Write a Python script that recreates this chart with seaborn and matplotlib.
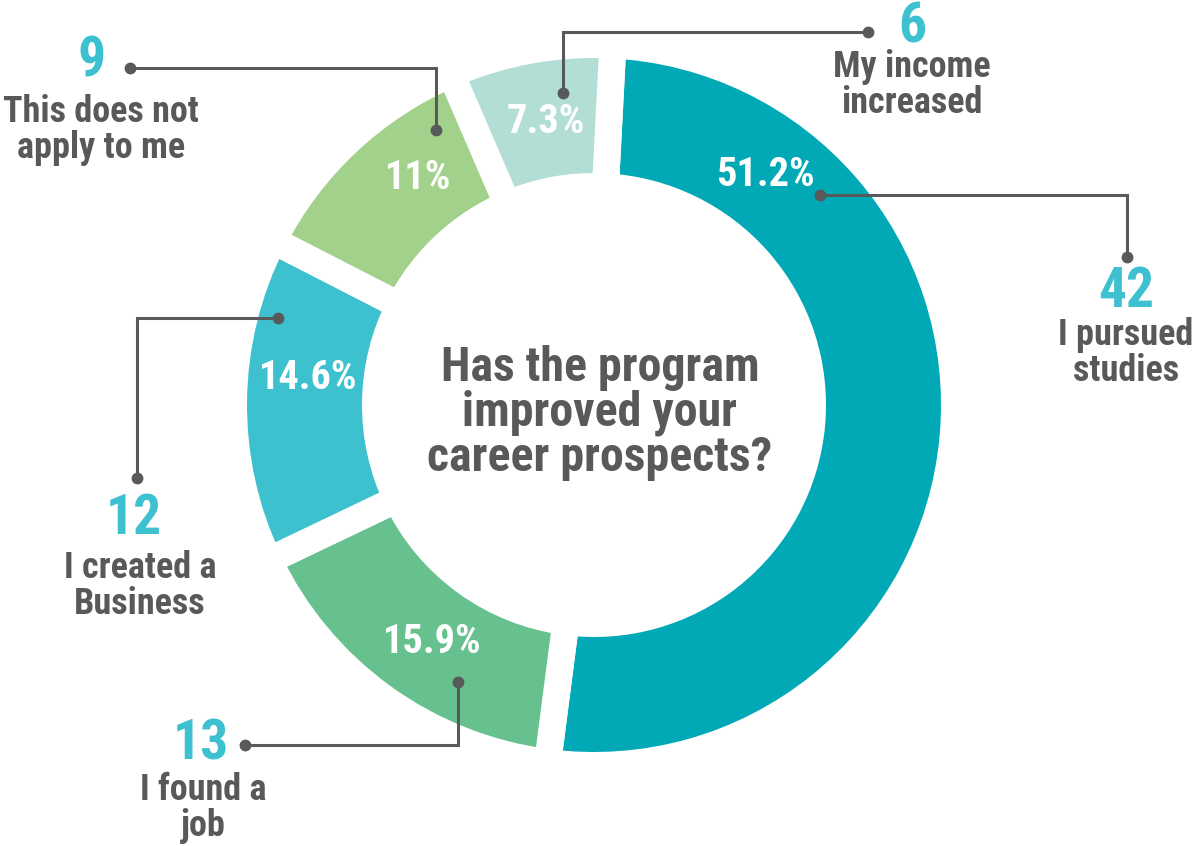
import os

import matplotlib
matplotlib.use("Agg")
import matplotlib.pyplot as plt
from matplotlib import font_manager
import numpy as np
import seaborn as sns

# ---------------------------------------------------------------------------
# Data (clockwise from the top)
# ---------------------------------------------------------------------------
categories = [
    "I pursued\nstudies",
    "I found a\njob",
    "I created a\nBusiness",
    "This does not\napply to me",
    "My income\nincreased",
]
counts = [42, 13, 12, 9, 6]
slice_colors = ["#00A9B5", "#66C18E", "#3EC1CF", "#A1D18A", "#B2DED5"]
title = "Has the program\nimproved your\ncareer prospects?"

# ---------------------------------------------------------------------------
# Layout (image pixels, y measured from the top)
# ---------------------------------------------------------------------------
W, H = 1192, 846
CX, CY = 594, 405
R_OUT, RING, GAP = 347, 115, 27
PCT_R = 287
PCT_ANGLE = [53.4, -124.4, 174.7, 127.7, 99.6]

# leader line path (dot in ring -> elbow -> end dot), number and label anchors
CALLOUTS = [
    dict(path=[(820, 195), (1127, 195), (1127, 257)], num=(1126, 292), lab=(1126, 353)),
    dict(path=[(458, 682), (458, 745), (245, 745)], num=(201, 744), lab=(203, 808)),
    dict(path=[(278, 318), (137, 318), (137, 478)], num=(134, 519), lab=(140, 586)),
    dict(path=[(436, 130), (436, 68), (130, 68)], num=(92, 61), lab=(101, 130)),
    dict(path=[(563, 93), (563, 32), (868, 32)], num=(912, 27), lab=(912, 85)),
]

GREY = "#58595B"
NUM_COLOR = "#3DC0CF"

sns.set_theme(style="white")


def pick_font():
    wanted = ["RobotoCondensed-Bold.ttf", "BarlowSemiCondensed-Bold.ttf",
              "DejaVuSansCondensed-Bold.ttf"]
    found = {os.path.basename(f): f for f in font_manager.findSystemFonts()}
    for w in wanted:
        if w in found:
            return font_manager.FontProperties(fname=found[w])
    return font_manager.FontProperties(family="DejaVu Sans", weight="bold")


FONT = pick_font()


def P(x, y):
    """image pixel -> data coords (y up)"""
    return x, H - y


def put_text(xy, s, size, color, **kw):
    fp = FONT.copy()
    fp.set_size(size)
    return ax.text(*P(*xy), s, fontproperties=fp, color=color,
                   ha="center", va="center", **kw)


fig = plt.figure(figsize=(W / 100, H / 100), dpi=100)
ax = fig.add_axes([0, 0, 1, 1])

wedges, _ = ax.pie(
    counts,
    colors=slice_colors,
    startangle=87,
    counterclock=False,
    radius=R_OUT + GAP / 2,
    center=P(CX, CY),
    wedgeprops=dict(width=RING + GAP, edgecolor="white", linewidth=GAP * 0.72),
)

ax.set_xlim(0, W)
ax.set_ylim(0, H)
ax.set_aspect("equal")
ax.axis("off")

total = sum(counts)
cx, cy = P(CX, CY)
for ang, c in zip(PCT_ANGLE, counts):
    pct = f"{c / total * 100:.1f}".rstrip("0").rstrip(".")
    x = cx + PCT_R * np.cos(np.radians(ang))
    y = cy + PCT_R * np.sin(np.radians(ang))
    fp = FONT.copy()
    fp.set_size(29)
    ax.text(x, y, pct + "%", fontproperties=fp, color="white",
            ha="center", va="center", zorder=5)

for co, c, lab in zip(CALLOUTS, counts, categories):
    xs, ys = zip(*[P(*p) for p in co["path"]])
    ax.plot(xs, ys, color=GREY, lw=2.2, solid_joinstyle="miter", zorder=6)
    ax.plot([xs[0], xs[-1]], [ys[0], ys[-1]], "o", color=GREY, ms=7.5, zorder=7)
    put_text(co["num"], str(c), 40, NUM_COLOR, zorder=6)
    put_text(co["lab"], lab, 26, GREY, linespacing=1.02, zorder=6)

put_text((600, 413), title, 34.5, GREY, linespacing=0.97, zorder=6)

fig.savefig("out.png", dpi=100, facecolor="white")
